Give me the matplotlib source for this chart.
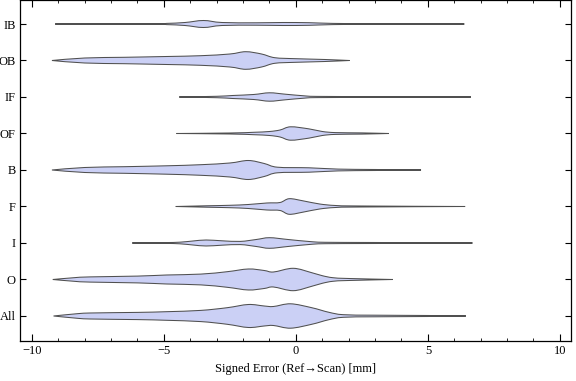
import numpy as np
import matplotlib
matplotlib.use('Agg')
import matplotlib.pyplot as plt
from matplotlib.path import Path
from matplotlib.patches import PathPatch
from matplotlib.ticker import MultipleLocator

plt.rcParams['font.family'] = ['Liberation Serif', 'DejaVu Serif']

# categories from bottom to top
labels = ['All', 'O', 'I', 'F', 'B', 'OF', 'IF', 'OB', 'IB']

# violin profiles: x position [mm] and half-width (density)
all_x = [-9.18, -8.4, -7.8, -6.0, -4.9, -3.6, -2.6, -1.8, -1.2, -0.85, -0.2, 0.6, 1.25, 1.8, 3.0, 5.0, 6.44]
all_w = [0, 2.0, 3.0, 3.6, 4.3, 5.6, 8.3, 11.5, 10.0, 9.5, 12.2, 8.3, 3.7, 1.3, 0.8, 0.5, 0]

o_x = [-9.21, -8.4, -7.8, -6.0, -4.9, -3.6, -2.6, -1.8, -1.2, -0.85, -0.1, 0.6, 1.0, 1.4, 2.0, 3.67]
o_w = [0, 1.8, 2.6, 3.4, 4.5, 5.4, 7.8, 10.5, 9.0, 7.5, 11.2, 6.8, 3.8, 1.8, 1.0, 0]

i_x = [-6.2, -5.0, -4.4, -3.9, -3.4, -2.8, -2.1, -1.5, -1.0, -0.3, 0.5, 1.1, 3.0, 6.69]
i_w = [0, 0.4, 0.8, 2.0, 3.0, 2.2, 1.6, 3.5, 5.3, 3.5, 1.5, 0.7, 0.5, 0]

f_x = [-4.55, -3.4, -2.5, -1.8, -1.1, -0.6, -0.25, 0.3, 0.9, 1.5, 2.5, 6.41]
f_w = [0, 0.7, 1.2, 2.0, 3.5, 4.0, 7.8, 5.5, 2.5, 1.0, 0.5, 0]

b_x = [-9.24, -8.0, -6.5, -4.9, -3.6, -2.5, -1.8, -1.2, -0.7, 0.5, 1.6, 3.0, 4.74]
b_w = [0, 2.5, 3.3, 4.2, 5.3, 7.0, 9.5, 6.5, 2.8, 2.2, 0.9, 0.5, 0]

of_x = [-4.52, -2.5, -1.6, -1.0, -0.6, -0.2, 0.5, 1.0, 1.5, 2.5, 3.52]
of_w = [0, 0.5, 1.2, 2.0, 3.5, 6.7, 4.6, 2.0, 0.9, 0.6, 0]

if_x = [-4.42, -3.0, -2.4, -1.6, -1.0, -0.4, 0.3, 0.8, 3.0, 6.63]
if_w = [0, 0.7, 1.5, 2.5, 4.2, 2.8, 1.2, 0.6, 0.4, 0]

ob_x = [-9.24, -8.0, -6.5, -4.9, -3.6, -2.5, -1.9, -1.3, -0.8, 0.0, 1.1, 2.03]
ob_w = [0, 2.5, 3.2, 4.0, 4.8, 6.5, 8.8, 6.5, 2.8, 1.8, 1.0, 0]

ib_x = [-9.12, -5.5, -4.9, -4.2, -3.5, -2.8, -1.5, -0.5, 0.5, 1.4, 3.0, 6.38]
ib_w = [0, 0.3, 0.6, 1.5, 3.5, 1.5, 1.2, 1.5, 1.3, 0.6, 0.3, 0]

profiles = [(all_x, all_w), (o_x, o_w), (i_x, i_w), (f_x, f_w), (b_x, b_w),
            (of_x, of_w), (if_x, if_w), (ob_x, ob_w), (ib_x, ib_w)]

scale = 1 / 36.5  # half-width units -> category spacing


def smooth_segments(pts):
    # catmull-rom through the knots, written as cubic bezier pieces
    p = np.vstack([pts[0], pts, pts[-1]])
    verts, codes = [], []
    for i in range(1, len(p) - 2):
        c1 = p[i] + (p[i + 1] - p[i - 1]) / 6
        c2 = p[i + 1] - (p[i + 2] - p[i]) / 6
        verts += [c1, c2, p[i + 1]]
        codes += [Path.CURVE4] * 3
    return verts, codes


fig = plt.figure(figsize=(5.76, 3.81), dpi=100)
ax = fig.add_axes([0.0347, 0.105, 0.9566, 0.8937])

for k, (xs, ws) in enumerate(profiles):
    pos = k + 1
    xs = np.array(xs, dtype=float)
    ws = np.array(ws, dtype=float) * scale
    upper = np.column_stack([xs, pos + ws])
    lower = np.column_stack([xs[::-1], pos - ws[::-1]])
    v1, c1 = smooth_segments(upper)
    v2, c2 = smooth_segments(lower)
    verts = [upper[0]] + v1 + v2 + [upper[0]]
    codes = [Path.MOVETO] + c1 + c2 + [Path.CLOSEPOLY]
    ax.add_patch(PathPatch(Path(verts, codes), facecolor='#cbd0f5',
                           edgecolor='#505050', linewidth=0.75))

ax.set_xlim(-10.45, 10.42)
ax.set_ylim(0.315, 9.644)
ax.set_yticks(range(1, 10))
ax.set_yticklabels(labels)
ax.set_xticks([-10, -5, 0, 5, 10])
ax.xaxis.set_minor_locator(MultipleLocator(1))
ax.tick_params(axis='both', which='both', direction='in', top=True, right=True,
               labelsize=9, pad=3)
ax.tick_params(axis='x', which='major', length=5)
ax.tick_params(axis='x', which='minor', length=2.5)
ax.tick_params(axis='y', which='major', length=4)
ax.set_xlabel('Signed Error (Ref\u2192Scan) [mm]', fontsize=9, labelpad=4)
for s in ax.spines.values():
    s.set_linewidth(0.9)

fig.savefig('out.png', dpi=100)
